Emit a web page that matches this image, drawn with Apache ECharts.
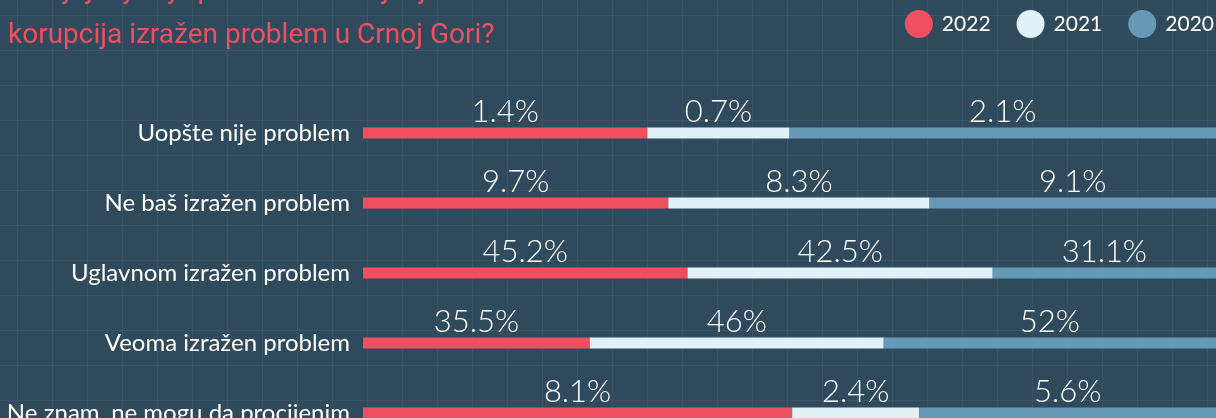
<!DOCTYPE html>
<html>
<head>
<meta charset="utf-8">
<title>Korupcija u Crnoj Gori</title>
<script src="https://cdn.jsdelivr.net/npm/echarts@6/dist/echarts.min.js"></script>
<style>
    html, body {margin: 0; padding: 0; background: #304a5d; overflow: hidden;}
    #charts {width: 1216px; height: 448px;}
</style>
</head>
<body>
<div id="charts"></div>
<script>
var categories = ['Uopšte nije problem', 'Ne baš izražen problem', 'Uglavnom izražen problem', 'Veoma izražen problem', 'Ne znam, ne mogu da procijenim'];
var years = ['2022', '2021', '2020'];
var v2022 = [1.4, 9.7, 45.2, 35.5, 8.1];
var v2021 = [0.7, 8.3, 42.5, 46, 2.4];
var v2020 = [2.1, 9.1, 31.1, 52, 5.6];

var colors = ['#ef4f5f', '#e0f2f6', '#6699b6'];

function showChart() {
    // pozadina s mrezom
    var canvas = document.createElement('canvas');
    canvas.width = canvas.height = 35;
    var ctx = canvas.getContext('2d');
    ctx.fillStyle = '#304a5d';
    ctx.fillRect(0, 0, 35, 35);
    ctx.fillStyle = 'rgba(255,255,255,0.05)';
    ctx.fillRect(17, 0, 1, 35);
    ctx.fillRect(0, 15, 35, 1);

    var raw = [v2022, v2021, v2020];
    // svaki red se crta kao 100%
    var shares = raw.map(function (arr) {
        return arr.map(function (v, i) {
            return v / (v2022[i] + v2021[i] + v2020[i]) * 100;
        });
    });

    var myChart = echarts.init(document.getElementById('charts'));
    myChart.setOption({
        backgroundColor: {
            type: 'pattern',
            image: canvas,
            repeat: 'repeat'
        },
        // naslov (prvi red je odsjecen gore)
        graphic: [{
            type: 'text',
            x: 8,
            y: -32,
            style: {
                text: 'U kojoj mjeri je po Vašem mišljenju\nkorupcija izražen problem u Crnoj Gori?',
                fill: '#ef4f5f',
                font: '28px Roboto',
                lineHeight: 45,
                verticalAlign: 'top'
            }
        }],
        legend: {
            data: years,
            right: 2,
            top: 10,
            padding: 0,
            icon: 'circle',
            itemWidth: 28,
            itemHeight: 28,
            itemGap: 26,
            textStyle: {
                color: '#fff',
                fontFamily: 'Lato',
                fontSize: 21,
                padding: [0, 0, 0, 4]
            }
        },
        grid: {
            left: 363,
            right: -2,
            top: 98,
            bottom: 0
        },
        xAxis: {
            type: 'value',
            min: 0,
            max: 100,
            show: false
        },
        yAxis: {
            type: 'category',
            inverse: true,
            data: categories,
            axisLine: {show: false},
            axisTick: {show: false},
            splitLine: {show: false},
            axisLabel: {
                color: '#fff',
                fontFamily: 'Lato',
                fontSize: 24,
                margin: 13,
                padding: [0, 0, 8, 0]
            }
        },
        series: years.map(function (y, k) {
            return {
                name: y,
                type: 'bar',
                stack: 'total',
                barWidth: 11,
                data: shares[k],
                itemStyle: {color: colors[k]},
                label: {
                    show: true,
                    position: 'top',
                    distance: 0,
                    color: '#fff',
                    fontFamily: 'Lato',
                    fontWeight: 300,
                    fontSize: 31,
                    formatter: function (p) {
                        return raw[k][p.dataIndex] + '%';
                    }
                }
            };
        })
    });
}

showChart();
</script>
</body>
</html>
